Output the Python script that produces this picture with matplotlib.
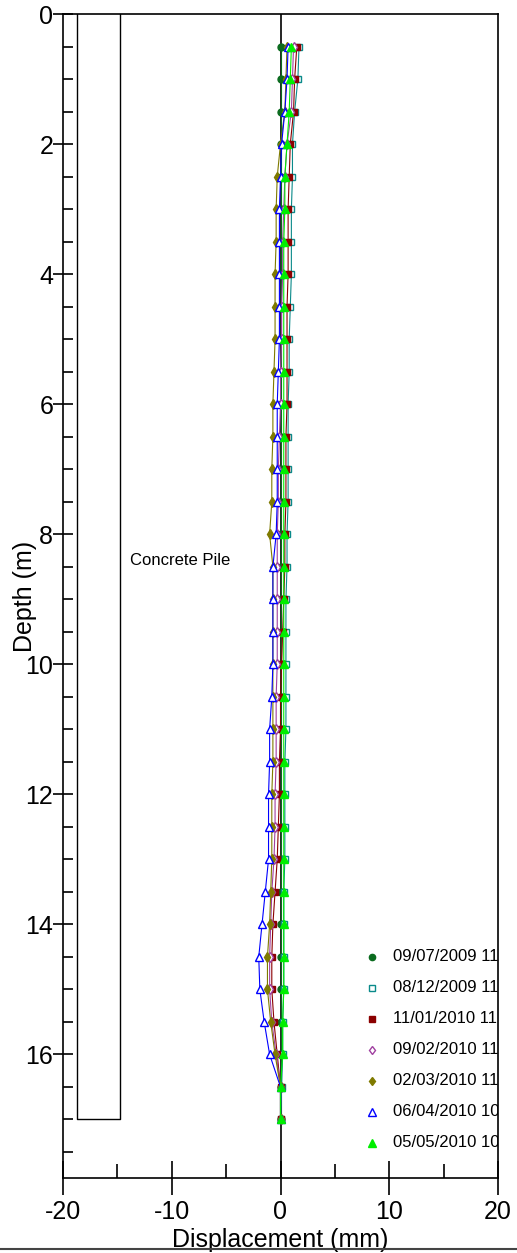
import matplotlib
matplotlib.use("Agg")
import matplotlib.pyplot as plt
from matplotlib.lines import Line2D

plt.rcParams['font.family'] = ['Liberation Sans', 'DejaVu Sans']
plt.rcParams['axes.unicode_minus'] = False

depths = [0.5, 1.0, 1.5, 2.0, 2.5, 3.0, 3.5, 4.0, 4.5, 5.0, 5.5, 6.0, 6.5, 7.0,
          7.5, 8.0, 8.5, 9.0, 9.5, 10.0, 10.5, 11.0, 11.5, 12.0, 12.5, 13.0,
          13.5, 14.0, 14.5, 15.0, 15.5, 16.0, 16.5, 17.0]

s_20090709 = [0.0] * 34
s_20091208 = [1.7, 1.6, 1.3, 1.1, 1.1, 1.0, 1.0, 1.0, 0.9, 0.8, 0.8, 0.7, 0.7, 0.7,
              0.7, 0.6, 0.6, 0.5, 0.5, 0.5, 0.5, 0.5, 0.4, 0.4, 0.4, 0.4, 0.3, 0.3,
              0.3, 0.3, 0.2, 0.2, 0.1, 0.0]
s_20100111 = [1.5, 1.3, 1.2, 0.9, 0.8, 0.7, 0.7, 0.7, 0.6, 0.6, 0.6, 0.6, 0.5, 0.5,
              0.5, 0.4, 0.4, 0.3, 0.2, 0.1, 0.0, 0.0, -0.1, -0.1, -0.2, -0.3, -0.5,
              -0.7, -0.8, -0.8, -0.6, -0.3, 0.0, 0.0]
s_20100209 = [1.2, 1.1, 1.0, 0.6, 0.4, 0.3, 0.2, 0.2, 0.1, 0.1, 0.0, 0.0, -0.1, -0.2,
              -0.2, -0.3, -0.3, -0.3, -0.3, -0.3, -0.4, -0.4, -0.4, -0.5, -0.5, -0.6,
              -0.8, -0.9, -1.0, -1.0, -0.8, -0.4, 0.0, 0.0]
s_20100302 = [0.6, 0.5, 0.4, 0.0, -0.3, -0.4, -0.4, -0.5, -0.5, -0.5, -0.6, -0.7,
              -0.7, -0.8, -0.8, -1.0, -0.7, -0.7, -0.7, -0.7, -0.7, -0.7, -0.7, -0.8,
              -0.8, -0.8, -0.9, -1.0, -1.2, -1.2, -0.9, -0.5, 0.0, 0.0]
s_20100406 = [0.7, 0.6, 0.4, 0.1, 0.0, -0.1, -0.1, -0.1, -0.1, -0.1, -0.2, -0.3,
              -0.3, -0.3, -0.3, -0.4, -0.7, -0.7, -0.7, -0.7, -0.8, -1.0, -1.0, -1.1,
              -1.1, -1.1, -1.4, -1.7, -2.0, -1.9, -1.5, -1.0, 0.0, 0.0]
s_20100505 = [1.0, 0.9, 0.8, 0.6, 0.4, 0.4, 0.3, 0.3, 0.3, 0.3, 0.3, 0.3, 0.3, 0.3,
              0.3, 0.3, 0.3, 0.3, 0.3, 0.3, 0.3, 0.3, 0.3, 0.3, 0.3, 0.3, 0.3, 0.3,
              0.3, 0.3, 0.2, 0.2, 0.0, 0.0]

labels = ["09/07/2009 11:00", "08/12/2009 11:00", "11/01/2010 11:00",
          "09/02/2010 11:00", "02/03/2010 11:00", "06/04/2010 10:00",
          "05/05/2010 10:00"]

pile_left, pile_right, pile_bottom = -18.7, -14.8, 17.0

series = [s_20090709, s_20091208, s_20100111, s_20100209, s_20100302,
          s_20100406, s_20100505]
styles = [
    dict(color='#0b6b1f', marker='o', mfc='#0b6b1f', ms=5),
    dict(color='#0a8a8a', marker='s', mfc='white', ms=5),
    dict(color='#8b0000', marker='s', mfc='#8b0000', ms=5),
    dict(color='#a040a0', marker='d', mfc='white', ms=5),
    dict(color='#7f7a00', marker='d', mfc='#7f7a00', ms=5),
    dict(color='#0000ff', marker='^', mfc='white', ms=6),
    dict(color='#00ee00', marker='^', mfc='#00ee00', ms=6),
]

fig = plt.figure(figsize=(5.17, 12.53), dpi=100)
ax = fig.add_axes([63 / 517, 1 - 1178 / 1253, 435 / 517, 1164 / 1253])

ax.axvline(0, color='black', lw=1.2, zorder=1)

for vals, st in zip(series, styles):
    ax.plot(vals, depths, color=st['color'], lw=0.8, marker=st['marker'],
            mfc=st['mfc'], mec=st['color'], ms=st['ms'], mew=1.0, zorder=3)

# concrete pile outline
ax.plot([pile_left, pile_left, pile_right, pile_right],
        [0, pile_bottom, pile_bottom, 0], color='black', lw=1.0, zorder=2)
ax.text(-13.8, 8.4, "Concrete Pile", fontsize=12, va='center', ha='left')

ax.set_xlim(-20, 20)
ax.set_ylim(17.9, 0)
ax.set_xticks([-20, -10, 0, 10, 20])
ax.set_xticks([-15, -5, 5, 15], minor=True)
ax.set_yticks([0, 2, 4, 6, 8, 10, 12, 14, 16])
ax.set_yticks([0.5 * i for i in range(1, 36) if i % 4 != 0], minor=True)
ax.tick_params(axis='x', which='major', direction='inout', length=24, width=1.2,
               labelsize=18, pad=4)
ax.tick_params(axis='x', which='minor', direction='in', length=10, width=1.2)
ax.tick_params(axis='y', which='major', direction='inout', length=14, width=1.2,
               labelsize=18, pad=0)
ax.tick_params(axis='y', which='minor', direction='in', length=7, width=1.2)
for sp in ax.spines.values():
    sp.set_linewidth(1.2)

ax.set_xlabel("Displacement (mm)", fontsize=18, labelpad=3)
ax.set_ylabel("Depth (m)", fontsize=18, labelpad=-8)

# legend (clipped at axes edge)
for i, (lab, st) in enumerate(zip(labels, styles)):
    y = 0.190 - i * 0.0266
    ax.plot([0.710], [y], transform=ax.transAxes, linestyle='none',
            marker=st['marker'], mfc=st['mfc'], mec=st['color'],
            ms=st['ms'] - 0.5, mew=1.0, clip_on=False)
    ax.text(0.759, y, lab, transform=ax.transAxes, fontsize=12, va='center',
            ha='left', clip_on=True)

fig.add_artist(Line2D([0, 1], [1 - 1249 / 1253] * 2, color='#444444', lw=1.5,
                      transform=fig.transFigure))

fig.savefig("out.png", dpi=100)
